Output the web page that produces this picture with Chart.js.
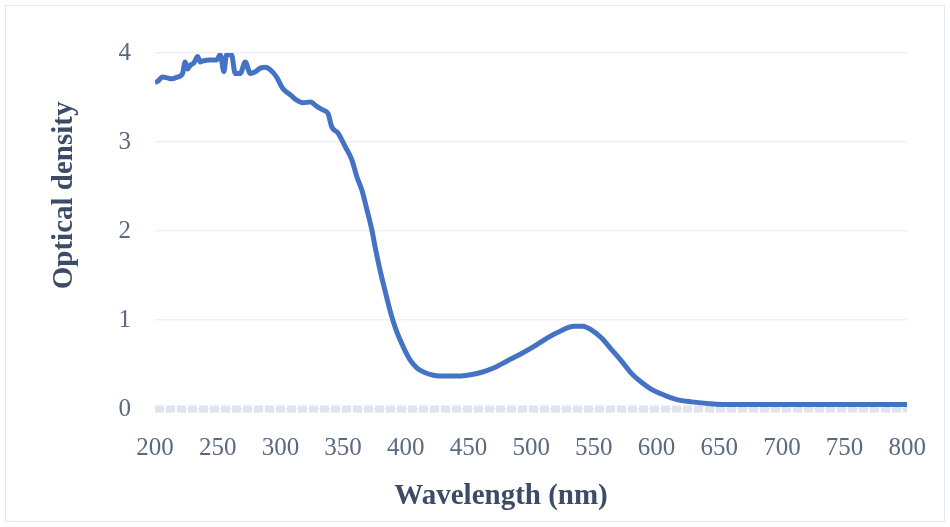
<!DOCTYPE html>
<html>
<head>
<meta charset="utf-8">
<script src="https://cdn.jsdelivr.net/npm/chart.js@4.4.1/dist/chart.umd.min.js"></script>
<style>
  html, body { margin: 0; padding: 0; background: #fff; }
  #wrap { position: relative; width: 950px; height: 527px; }
  #frame { position: absolute; left: 5px; top: 5px; width: 938px; height: 515px; border: 1px solid #e4e8ef; pointer-events: none; }
</style>
</head>
<body>
<div id="wrap">
  <canvas id="odChart" width="950" height="527"></canvas>
  <div id="frame"></div>
</div>
<script>
// absorption spectrum
const wavelength = [
  200, 202, 206, 210, 213, 218, 222, 224, 226, 228, 231, 234, 236, 238, 244, 249,
  252, 255, 257, 261, 264, 268, 272, 276, 280, 284, 288, 292, 297, 302, 308, 313,
  318, 324, 329, 334, 338, 341, 346, 352, 357, 361, 365, 369, 373, 376, 380, 384,
  388, 392, 396, 400, 404, 409, 415, 422, 430, 440, 449, 460, 470, 481, 492, 502,
  513, 524, 534, 541, 548, 556, 564, 572, 580, 588, 595, 602, 609, 618, 628, 643,
  660, 700, 750, 800
];
const opticalDensity = [
  3.67, 3.68, 3.73, 3.72, 3.71, 3.73, 3.77, 3.90, 3.82, 3.86, 3.89, 3.96, 3.90, 3.91, 3.92, 3.92,
  3.98, 3.79, 3.98, 3.98, 3.77, 3.77, 3.90, 3.77, 3.79, 3.83, 3.84, 3.81, 3.73, 3.60, 3.53, 3.47,
  3.44, 3.45, 3.40, 3.36, 3.32, 3.17, 3.10, 2.94, 2.80, 2.61, 2.46, 2.24, 2.01, 1.79, 1.53, 1.30,
  1.08, 0.90, 0.76, 0.64, 0.54, 0.46, 0.41, 0.38, 0.37, 0.37, 0.38, 0.41, 0.46, 0.54, 0.62, 0.70,
  0.80, 0.88, 0.93, 0.93, 0.89, 0.80, 0.67, 0.54, 0.40, 0.30, 0.23, 0.18, 0.14, 0.10, 0.08, 0.06,
  0.05, 0.05, 0.05, 0.05
];
const xTicks = [200, 250, 300, 350, 400, 450, 500, 550, 600, 650, 700, 750, 800];
const yTicks = [0, 1, 2, 3, 4];

const tickColor = '#5b6a80';
const titleColor = '#3d4c66';

// the zero line is a thick dashed band; chart.js ignores dash on the axis border
const zeroBand = {
  id: 'zeroBand',
  beforeDatasetsDraw(chart) {
    const { ctx, chartArea: a, scales } = chart;
    const y0 = scales.y.getPixelForValue(0);
    ctx.save();
    ctx.strokeStyle = '#dfe4ee';
    ctx.lineWidth = 7;
    ctx.setLineDash([9, 2]);
    ctx.beginPath();
    ctx.moveTo(a.left, y0);
    ctx.lineTo(a.right, y0);
    ctx.stroke();
    ctx.restore();
  }
};

// axis titles sit a bit off-centre in the original, so draw them by hand
const axisTitles = {
  id: 'axisTitles',
  afterDraw(chart) {
    const { ctx, chartArea: a } = chart;
    ctx.save();
    ctx.font = 'bold 29px "Liberation Serif"';
    ctx.fillStyle = titleColor;
    ctx.textAlign = 'center';
    ctx.textBaseline = 'middle';
    ctx.fillText('Wavelength (nm)', a.left + (a.right - a.left) * 0.46, 497);
    ctx.translate(65, a.top + (a.bottom - a.top) * 0.4);
    ctx.rotate(-Math.PI / 2);
    ctx.fillText('Optical density', 0, 0);
    ctx.restore();
  }
};

new Chart(document.getElementById('odChart'), {
  type: 'line',
  data: {
    datasets: [{
      label: 'Optical density',
      data: wavelength.map((w, i) => ({ x: w, y: opticalDensity[i] })),
      borderColor: '#4472c4',
      borderWidth: 5,
      pointRadius: 0,
      cubicInterpolationMode: 'monotone',
      fill: false
    }]
  },
  options: {
    responsive: false,
    animation: false,
    layout: { padding: { left: 0, top: 53, right: 42, bottom: 0 } },
    plugins: { legend: { display: false }, tooltip: { enabled: false } },
    scales: {
      x: {
        type: 'linear',
        min: xTicks[0],
        max: xTicks[xTicks.length - 1],
        afterBuildTicks: s => { s.ticks = xTicks.map(v => ({ value: v })); },
        afterFit: s => { s.height = 118; },
        grid: { display: false, drawTicks: false },
        border: { display: false },
        ticks: { color: tickColor, padding: 24, font: { family: '"Liberation Serif"', size: 25 } }
      },
      y: {
        min: yTicks[0],
        max: yTicks[yTicks.length - 1],
        afterBuildTicks: s => { s.ticks = yTicks.map(v => ({ value: v })); },
        afterFit: s => { s.width = 155; },
        grid: { color: '#edf1f5', lineWidth: 1.5, drawTicks: false },
        border: { display: false },
        ticks: { color: tickColor, padding: 24, font: { family: '"Liberation Serif"', size: 25 } }
      }
    }
  },
  plugins: [zeroBand, axisTitles]
});
</script>
</body>
</html>
